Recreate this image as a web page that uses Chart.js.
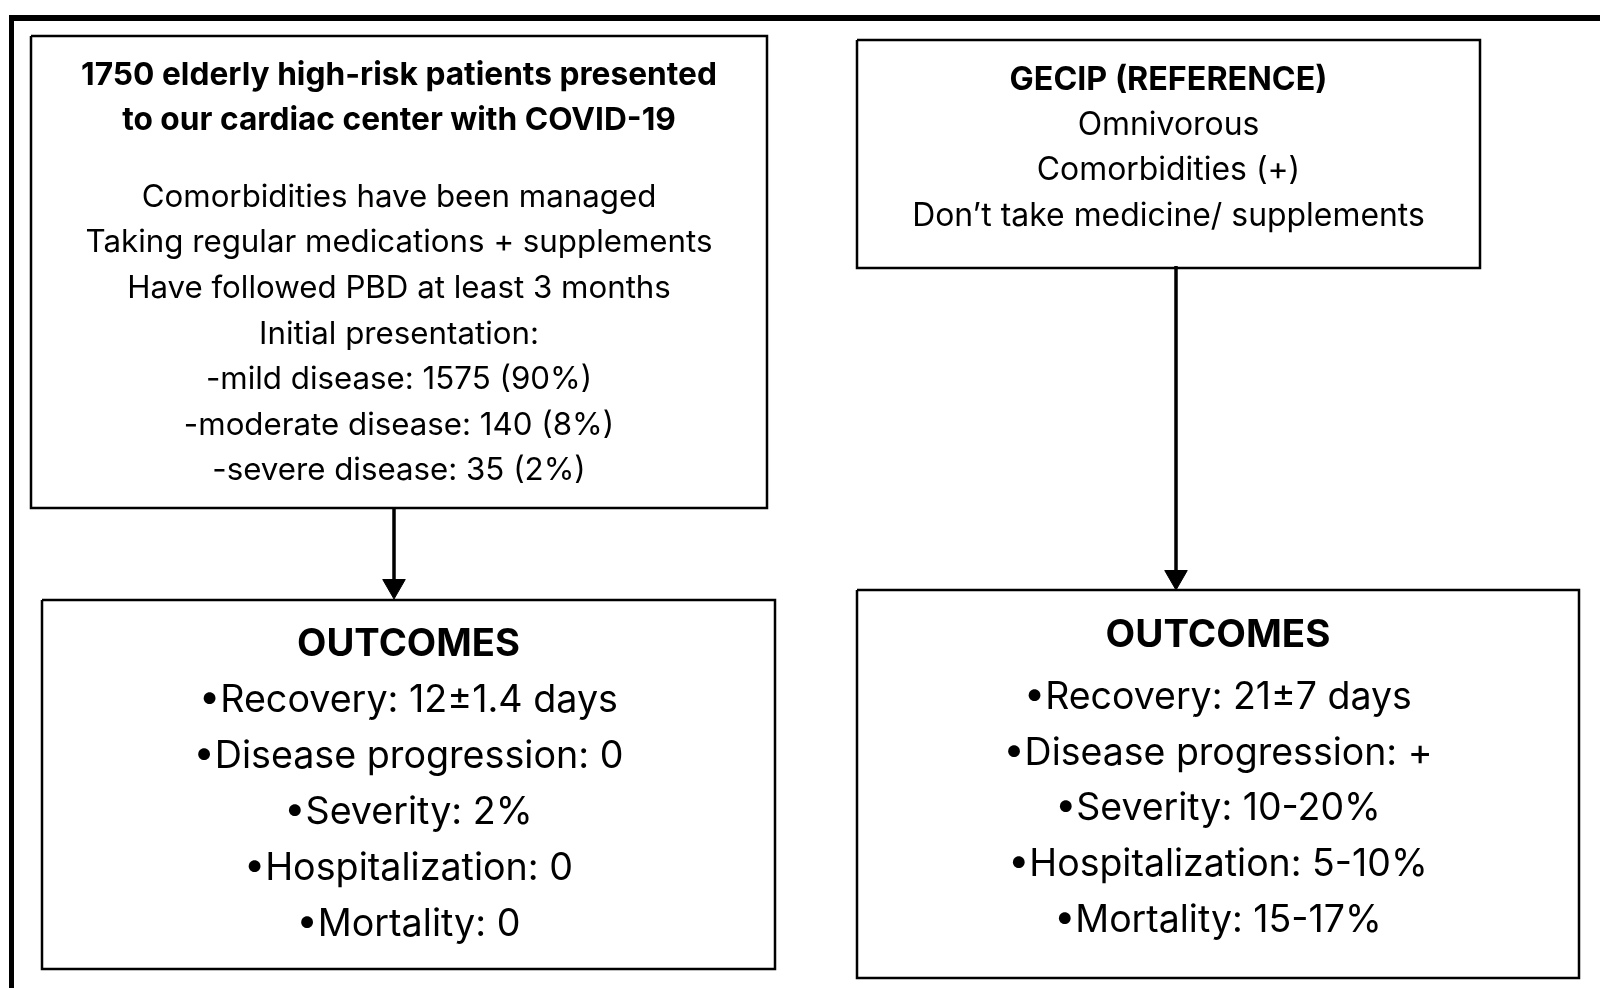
<!DOCTYPE html>
<html>
<head>
<meta charset="utf-8">
<script src="https://cdn.jsdelivr.net/npm/chart.js@4"></script>
<style>
  html, body { margin: 0; padding: 0; background: #fff; }
  #wrap { width: 1600px; height: 988px; }
</style>
</head>
<body>
<div id="wrap"><canvas id="flowChart" width="1600" height="988"></canvas></div>
<script>
// ---- content of the flow diagram ----
const cohortTitle = ["1750 elderly high-risk patients presented", "to our cardiac center with COVID-19"];
const cohortLines = ["Comorbidities have been managed", "Taking regular medications + supplements",
                     "Have followed PBD at least 3 months", "Initial presentation:"];
const severityGroups = ["mild disease", "moderate disease", "severe disease"];
const severityCounts = [1575, 140, 35];
const severityPercent = [90, 8, 2];

const referenceTitle = ["GECIP (REFERENCE)"];
const referenceLines = ["Omnivorous", "Comorbidities (+)", "Don\u2019t take medicine/ supplements"];

const outcomesTitle = ["OUTCOMES"];
const outcomeLabels = ["Recovery", "Disease progression", "Severity", "Hospitalization", "Mortality"];
const pbdOutcomes = ["12\u00b11.4 days", "0", "2%", "0", "0"];
const gecipOutcomes = ["21\u00b17 days", "+", "10-20%", "5-10%", "15-17%"];

// ---- layout (diagram units = pixels of a 1600 x 988 sheet) ----
const fontFamily = "Inter, 'Noto Sans', sans-serif";
const frame = { top: 18, left: 11.5, topWidth: 6, leftWidth: 5, right: 1600, bottom: 988 };
const boxes = [
  { left: 31, top: 36, right: 767, bottom: 508, title: cohortTitle, titleY: [75.5, 120.5], titleFit: 636,
    body: cohortLines.concat(severityGroups.map((g, i) => "-" + g + ": " + severityCounts[i] + " (" + severityPercent[i] + "%)")),
    bodyY: 197.5, bodyStep: 45.6, bodyFit: 627 },
  { left: 857, top: 40, right: 1480, bottom: 268, title: referenceTitle, titleY: [80.5], titleFit: 318,
    body: referenceLines, bodyY: 125, bodyStep: 45.8, bodyFit: 513 },
  { left: 42, top: 600, right: 775, bottom: 969, title: outcomesTitle, titleY: [645], titleFit: 223,
    body: outcomeLabels.map((l, i) => "\u2022" + l + ": " + pbdOutcomes[i]),
    bodyY: 701, bodyStep: 56, bodyFit: 430 },
  { left: 857, top: 590, right: 1579, bottom: 978, title: outcomesTitle, titleY: [635.5], titleFit: 225,
    body: outcomeLabels.map((l, i) => "\u2022" + l + ": " + gecipOutcomes[i]),
    bodyY: 697.5, bodyStep: 55.8, bodyFit: 429 }
];
const arrows = [
  { x: 394, from: 508, to: 599 },
  { x: 1176, from: 266, to: 590 }
];
const headRadius = 13;

const datasets = [];
// outer frame (top and left rules)
datasets.push({ data: [{ x: frame.right, y: frame.top }, { x: frame.left - 2.5, y: frame.top }],
                borderWidth: frame.topWidth });
datasets.push({ data: [{ x: frame.left, y: frame.top - 3 }, { x: frame.left, y: frame.bottom }],
                borderWidth: frame.leftWidth });
// boxes
boxes.forEach(b => {
  datasets.push({
    data: [{ x: b.left, y: b.top }, { x: b.right, y: b.top }, { x: b.right, y: b.bottom },
           { x: b.left, y: b.bottom }, { x: b.left, y: b.top }],
    borderWidth: 2.5
  });
});
// arrows: shaft + triangle head
arrows.forEach(a => {
  datasets.push({
    data: [{ x: a.x, y: a.from }, { x: a.x, y: a.to - headRadius }],
    borderWidth: 3.5,
    pointRadius: [0, headRadius],
    pointStyle: "triangle",
    pointRotation: 180,
    pointBackgroundColor: "#000",
    pointBorderColor: "#000",
    pointBorderWidth: 1
  });
});
datasets.forEach(d => {
  d.showLine = true;
  d.borderColor = "#000";
  d.fill = false;
  d.clip = false;
  d.borderJoinStyle = "miter";
  if (d.pointRadius === undefined) d.pointRadius = 0;
});

function fitSize(ctx, lines, target, weight) {
  ctx.font = weight + " 40px " + fontFamily;
  const widest = Math.max(...lines.map(t => ctx.measureText(t).width));
  return 40 * target / widest;
}

const boxText = {
  id: "boxText",
  afterDatasetsDraw(chart) {
    const ctx = chart.ctx;
    const xs = chart.scales.x;
    const ys = chart.scales.y;
    const unit = xs.getPixelForValue(1) - xs.getPixelForValue(0);
    ctx.save();
    ctx.fillStyle = "#000";
    ctx.textAlign = "center";
    ctx.textBaseline = "middle";
    boxes.forEach(b => {
      const cx = xs.getPixelForValue((b.left + b.right) / 2);
      const tSize = fitSize(ctx, b.title, b.titleFit * unit, "bold");
      ctx.font = "bold " + tSize + "px " + fontFamily;
      b.title.forEach((t, i) => ctx.fillText(t, cx, ys.getPixelForValue(b.titleY[i])));
      const bSize = fitSize(ctx, b.body, b.bodyFit * unit, "normal");
      ctx.font = "normal " + bSize + "px " + fontFamily;
      b.body.forEach((t, i) => ctx.fillText(t, cx, ys.getPixelForValue(b.bodyY + i * b.bodyStep)));
    });
    ctx.restore();
  }
};

new Chart(document.getElementById("flowChart"), {
  type: "scatter",
  data: { datasets: datasets },
  options: {
    responsive: false,
    animation: false,
    devicePixelRatio: 1,
    events: [],
    layout: { padding: 0, autoPadding: false },
    scales: {
      x: { type: "linear", min: 0, max: 1600, display: false },
      y: { type: "linear", min: 0, max: 988, reverse: true, display: false }
    },
    plugins: { legend: { display: false }, tooltip: { enabled: false } }
  },
  plugins: [boxText]
});
</script>
</body>
</html>
